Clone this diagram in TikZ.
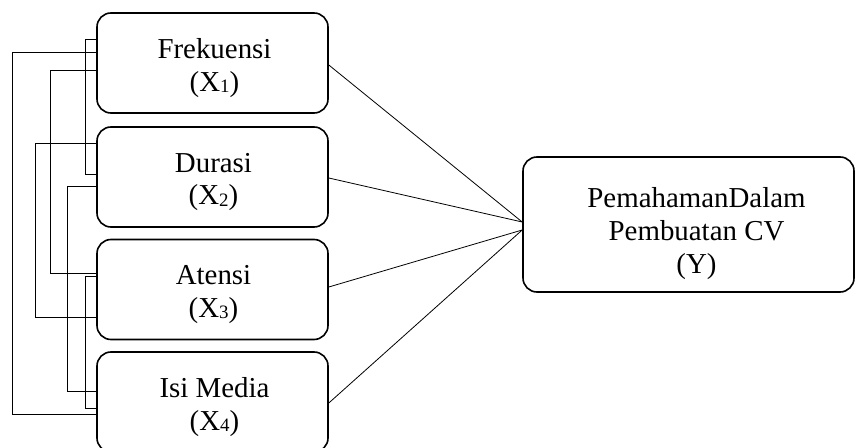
\documentclass[tikz,border=0pt]{standalone}
\usepackage{fontspec}
\setmainfont{Liberation Serif}
\usetikzlibrary{calc}
\newcommand{\sbx}[1]{\raisebox{-1.5bp}{\fontsize{19}{19}\selectfont #1}}
\begin{document}
\begin{tikzpicture}[x=1bp,y=-1bp,
  box/.style={draw, line width=1.6bp, rounded corners=14bp, inner sep=0pt,
    minimum width=231bp, minimum height=100bp},
  txt/.style={inner sep=0pt, align=center, font=\fontsize{29}{33}\selectfont},
  link/.style={line width=0.8bp}]
\useasboundingbox (0,0) rectangle (856,448);
\node[box] (b1) at (212.5,63) {};
\node[box] (b2) at (212.5,177) {};
\node[box] (b3) at (212.5,289.5) {};
\node[box] (b4) at (212.5,402) {};
\node[box, minimum width=331bp, minimum height=135bp] (y) at (688.5,224.5) {};
\node[txt] (t1) at ($(b1)+(2,5)$) {Frekuensi\\(X\sbx{1})};
\node[txt] (t2) at ($(b2)+(1,5)$) {Durasi\\(X\sbx{2})};
\node[txt] (t3) at ($(b3)+(1,5)$) {Atensi\\(X\sbx{3})};
\node[txt] (t4) at ($(b4)+(2,5)$) {Isi Media\\(X\sbx{4})};
\node[txt] (ty) at ($(y)+(8,9)$) {PemahamanDalam\\Pembuatan CV\\(Y)};
% links to Y
\draw[link] (b1.east |- 0,65) -- (y.west |- 0,222);
\draw[link] (b2.east |- 0,178) -- (y.west |- 0,222);
\draw[link] (b3.east |- 0,287) -- (y.west |- 0,230);
\draw[link] (b4.east |- 0,403) -- (y.west |- 0,230);
% correlations
\draw[link] (b1.west |- 0,39) -| (85,174) -- (b2.west |- 0,174);
\draw[link] (b1.west |- 0,52) -| (12,414) -- (b4.west |- 0,414);
\draw[link] (b1.west |- 0,70) -| (50,273) -- (b3.west |- 0,273);
\draw[link] (b2.west |- 0,143) -| (35,317) -- (b3.west |- 0,317);
\draw[link] (b2.west |- 0,186) -| (67,391) -- (b4.west |- 0,391);
\draw[link] (b3.west |- 0,276) -| (85,408) -- (b4.west |- 0,408);
\end{tikzpicture}
\end{document}
